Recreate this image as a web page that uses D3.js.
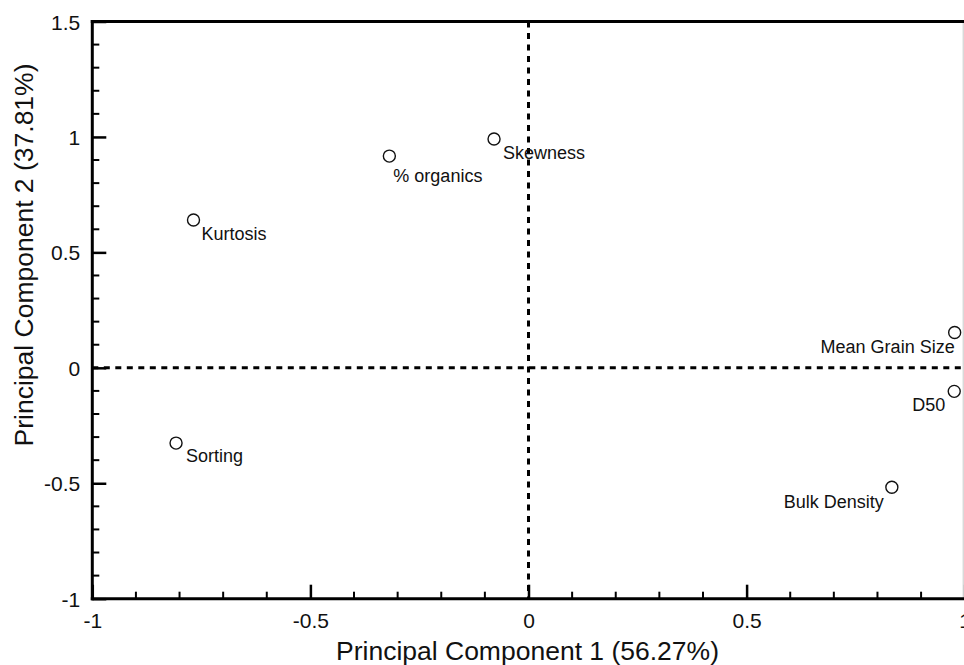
<!DOCTYPE html>
<html>
<head>
<meta charset="utf-8">
<script src="https://cdn.jsdelivr.net/npm/d3@7"></script>
<style>
  html, body { margin: 0; padding: 0; background: #fff; }
  svg { display: block; font-family: Helvetica, Arial, "Liberation Sans", sans-serif; }
</style>
</head>
<body>
<svg id="chart" width="964" height="665"></svg>
<script>
// ---- data ----
const variables = ["Kurtosis", "% organics", "Skewness", "Sorting", "Mean Grain Size", "D50", "Bulk Density"];
const pc1 = [-0.768, -0.319, -0.079, -0.808, 0.977, 0.976, 0.833];
const pc2 = [0.640, 0.917, 0.991, -0.326, 0.153, -0.102, -0.517];
const xTickValues = [-1, -0.5, 0, 0.5, 1];
const yTickValues = [-1, -0.5, 0, 0.5, 1, 1.5];
const xTickLabels = ["-1", "-0.5", "0", "0.5", "1"];
const yTickLabels = ["-1", "-0.5", "0", "0.5", "1", "1.5"];
const xTitle = "Principal Component 1 (56.27%)";
const yTitle = "Principal Component 2 (37.81%)";

// label placement (layout only)
const labelPlacement = [
  {anchor: "start", dx: 8, dy: 20},
  {anchor: "start", dx: 4, dy: 26},
  {anchor: "start", dx: 9, dy: 20},
  {anchor: "start", dx: 10, dy: 19},
  {anchor: "end", dx: 0, dy: 21},
  {anchor: "end", dx: -9, dy: 20},
  {anchor: "end", dx: -8, dy: 21}
];

const svg = d3.select("#chart");
const pLeft = 92.3, pRight = 964.7, pTop = 21.5, pBottom = 598.7;

const x = d3.scaleLinear().domain([-1, 1]).range([pLeft, pRight]);
const y = d3.scaleLinear().domain([-1, 1.5]).range([pBottom, pTop]);

const minorX = d3.range(-10, 11).map(d => d / 10).filter(v => !xTickValues.some(t => Math.abs(t - v) < 1e-9));
const minorY = d3.range(-10, 16).map(d => d / 10).filter(v => !yTickValues.some(t => Math.abs(t - v) < 1e-9));

// right border (thin gray)
svg.append("line")
  .attr("x1", pRight - 1.5).attr("x2", pRight - 1.5)
  .attr("y1", pTop).attr("y2", pBottom)
  .attr("stroke", "#c8c8c8").attr("stroke-width", 1);

// dashed zero lines
svg.append("line")
  .attr("x1", x(0)).attr("x2", x(0))
  .attr("y1", pTop).attr("y2", pBottom)
  .attr("stroke", "#000").attr("stroke-width", 3)
  .attr("stroke-dasharray", "6,5.5");
svg.append("line")
  .attr("x1", pLeft).attr("x2", pRight)
  .attr("y1", y(0)).attr("y2", y(0))
  .attr("stroke", "#000").attr("stroke-width", 3)
  .attr("stroke-dasharray", "6,5.5");

// bottom axis (ticks inward)
const xAxis = d3.axisBottom(x).tickValues(xTickValues)
  .tickFormat((d, i) => xTickLabels[i]).tickSizeInner(-14).tickSizeOuter(0).tickPadding(0);
const gx = svg.append("g").attr("transform", `translate(0,${pBottom})`).call(xAxis);
gx.attr("font-size", 21).attr("font-family", "Helvetica, Arial, 'Liberation Sans', sans-serif");
gx.select(".domain").attr("stroke-width", 3).attr("d", `M${pLeft - 1.5},0H${pRight}`);
gx.selectAll(".tick line").attr("stroke-width", 2.5);
gx.selectAll(".tick text").attr("y", 29).attr("dy", 0).attr("fill", "#111");
gx.selectAll(".minor").data(minorX).enter().append("line")
  .attr("x1", d => x(d)).attr("x2", d => x(d))
  .attr("y1", 0).attr("y2", -7).attr("stroke", "#000").attr("stroke-width", 2);

// left axis
const yAxis = d3.axisLeft(y).tickValues(yTickValues)
  .tickFormat((d, i) => yTickLabels[i]).tickSizeInner(-14).tickSizeOuter(0).tickPadding(0);
const gy = svg.append("g").attr("transform", `translate(${pLeft},0)`).call(yAxis);
gy.attr("font-size", 21).attr("font-family", "Helvetica, Arial, 'Liberation Sans', sans-serif");
gy.select(".domain").attr("stroke-width", 3).attr("d", `M0,${pBottom + 1.5}V${pTop - 1.5}`);
gy.selectAll(".tick line").attr("stroke-width", 2.5);
gy.selectAll(".tick text").attr("x", -12).attr("dy", 7.5).attr("fill", "#111");
gy.selectAll(".minor").data(minorY).enter().append("line")
  .attr("y1", d => y(d)).attr("y2", d => y(d))
  .attr("x1", 0).attr("x2", 7).attr("stroke", "#000").attr("stroke-width", 2);

// top border
svg.append("line")
  .attr("x1", pLeft - 1.5).attr("x2", pRight)
  .attr("y1", pTop).attr("y2", pTop)
  .attr("stroke", "#000").attr("stroke-width", 3);

// points
const pts = variables.map((v, i) => ({name: v, a: pc1[i], b: pc2[i], p: labelPlacement[i]}));
svg.append("g").selectAll("circle").data(pts).enter().append("circle")
  .attr("cx", d => x(d.a)).attr("cy", d => y(d.b)).attr("r", 6)
  .attr("fill", "#fff").attr("stroke", "#111").attr("stroke-width", 1.4);

svg.append("g").selectAll("text").data(pts).enter().append("text")
  .attr("x", d => x(d.a) + d.p.dx).attr("y", d => y(d.b) + d.p.dy)
  .attr("text-anchor", d => d.p.anchor)
  .attr("font-size", 18).attr("fill", "#111")
  .text(d => d.name);

// axis titles
svg.append("text")
  .attr("x", (pLeft + pRight) / 2 - 1).attr("y", 660)
  .attr("text-anchor", "middle").attr("font-size", 26.5).attr("fill", "#111")
  .text(xTitle);
svg.append("text")
  .attr("transform", `translate(33,255) rotate(-90)`)
  .attr("text-anchor", "middle").attr("font-size", 26.5).attr("fill", "#111")
  .text(yTitle);
</script>
</body>
</html>
